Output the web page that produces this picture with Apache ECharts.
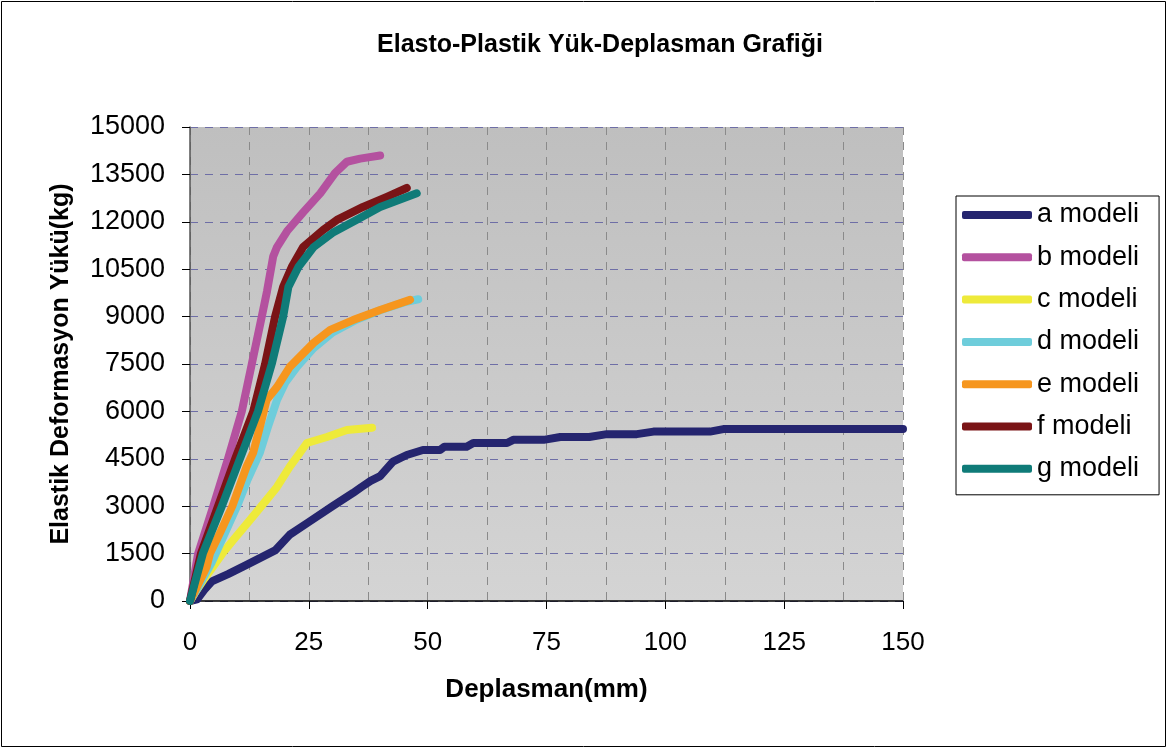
<!DOCTYPE html>
<html>
<head>
<meta charset="utf-8">
<script src="https://cdn.jsdelivr.net/npm/echarts@6/dist/echarts.min.js"></script>
<style>
  html, body { margin: 0; padding: 0; background: #fff; }
  #yuk { width: 1168px; height: 749px; }
</style>
</head>
<body>
<div id="yuk"></div>
<script>
// yük-deplasman eğrileri, [deplasman(mm), yük(kg)]
var modelNames = ['a modeli', 'b modeli', 'c modeli', 'd modeli', 'e modeli', 'f modeli', 'g modeli'];
var modelColors = ['#25256f', '#b4519f', '#eeea3a', '#6ecddb', '#f6961e', '#7a1416', '#0f7b78'];

var aModeli = [[0, 0], [1.5, 50], [3, 350], [4.6, 620], [8, 850], [12, 1150], [17.9, 1600], [21, 2100], [25, 2500],
    [30, 3000], [34.3, 3420], [36, 3600], [38, 3800], [40, 3950], [42.7, 4410], [45.6, 4620], [49, 4780], [52.6, 4780],
    [53.5, 4880], [58.2, 4880], [59.6, 5000], [66.7, 5000], [68, 5100], [74.4, 5100], [77.9, 5190], [84, 5190],
    [87.7, 5280], [94, 5280], [97.5, 5360], [109.4, 5360], [112.2, 5440], [150, 5440]];
var bModeli = [[0, 0], [1.7, 1500], [4.9, 3000], [8, 4500], [10.9, 6000], [13, 7500], [15.1, 9000], [16.2, 9800],
    [17.5, 10900], [18.3, 11200], [20.4, 11700], [23.8, 12300], [27.4, 12900], [30.5, 13540], [33, 13900],
    [35.8, 14000], [40, 14100]];
var cModeli = [[0, 0], [1, 250], [3, 700], [6.8, 1500], [9.1, 1930], [12.6, 2560], [16.1, 3200], [18.3, 3610],
    [19.6, 3920], [21, 4250], [22.5, 4560], [24.6, 5000], [28.8, 5190], [33, 5410], [38.3, 5480]];
var dModeli = [[0, 0], [1.2, 300], [4.5, 1200], [6, 1700], [9.9, 3000], [12, 3800], [14.7, 4700], [16.4, 5510],
    [17.5, 6000], [18.3, 6360], [20, 6900], [22.5, 7410], [26, 8000], [30, 8500], [35, 8900], [40, 9200],
    [45, 9450], [48, 9550]];
var eModeli = [[0, 0], [1, 300], [3.5, 1080], [4.2, 1500], [6.3, 2150], [8.9, 3000], [11.9, 4250], [13.3, 4700],
    [14.7, 5510], [16.1, 6360], [18.3, 6770], [21, 7410], [26, 8170], [29.5, 8580], [34.3, 8890], [40, 9210],
    [46.3, 9530]];
var fModeli = [[0, 0], [2.3, 1500], [5.9, 3000], [9.5, 4500], [13.3, 6000], [15.8, 7500], [17.9, 9000],
    [19.6, 9940], [21.4, 10570], [23.8, 11200], [28, 11740], [30.9, 12060], [36.4, 12470], [41.4, 12790],
    [45.6, 13070]];
var gModeli = [[0, 0], [2.7, 1500], [6.7, 3000], [10.5, 4500], [14.3, 6000], [17.2, 7500], [19.6, 9000],
    [20.7, 9940], [22.8, 10570], [26, 11200], [30, 11650], [35, 12060], [40, 12470], [47.7, 12900]];

var modelData = [aModeli, bModeli, cModeli, dModeli, eModeli, fModeli, gModeli];

var yaziTipi = "'Liberation Sans', Arial, sans-serif";

var chart = echarts.init(document.getElementById('yuk'));

var series = modelNames.map(function (name, i) {
    return {
        name: name,
        type: 'line',
        data: modelData[i],
        showSymbol: false,
        symbol: 'none',
        animation: false,
        lineStyle: {
            color: modelColors[i],
            width: 8,
            cap: 'round',
            join: 'round'
        },
        itemStyle: { color: modelColors[i] }
    };
});

var option = {
    backgroundColor: '#fff',
    color: modelColors,
    textStyle: { fontFamily: yaziTipi },
    title: {
        text: 'Elasto-Plastik Yük-Deplasman Grafiği',
        left: 595,
        top: 28,
        textAlign: 'center',
        textStyle: {
            color: '#000',
            fontSize: 25,
            fontWeight: 'bold',
            fontFamily: yaziTipi
        }
    },
    legend: {
        data: modelNames,
        orient: 'vertical',
        left: 956,
        top: 196,
        padding: [5, 20, 12, 6],
        borderColor: '#000',
        borderWidth: 1,
        icon: 'roundRect',
        itemWidth: 70,
        itemHeight: 8,
        itemGap: 14.3,
        textStyle: {
            color: '#000',
            fontSize: 27,
            lineHeight: 28,
            fontFamily: yaziTipi
        }
    },
    grid: {
        left: 190,
        top: 127,
        width: 713,
        height: 474,
        show: true,
        borderWidth: 0,
        backgroundColor: {
            type: 'linear', x: 0, y: 0, x2: 0, y2: 1,
            colorStops: [
                { offset: 0, color: '#bfbfbf' },
                { offset: 1, color: '#d4d4d4' }
            ]
        }
    },
    xAxis: {
        type: 'value',
        min: 0,
        max: 150,
        interval: 25,
        name: 'Deplasman(mm)',
        nameLocation: 'middle',
        nameGap: 76,
        nameTextStyle: {
            color: '#000',
            fontSize: 26,
            fontWeight: 'bold',
            fontFamily: yaziTipi
        },
        axisLine: { show: true, lineStyle: { color: '#000', width: 1.5 } },
        axisTick: { show: true, length: 8, lineStyle: { color: '#000' } },
        axisLabel: { color: '#000', fontSize: 26, margin: 29, fontFamily: yaziTipi },
        splitLine: { show: true, lineStyle: { color: '#8a8a8a', type: [8, 7], width: 1 } },
        minorTick: { show: false, splitNumber: 2 },
        minorSplitLine: { show: true, lineStyle: { color: '#8a8a8a', type: [8, 7], width: 1 } }
    },
    yAxis: {
        type: 'value',
        min: 0,
        max: 15000,
        interval: 1500,
        name: 'Elastik Deformasyon Yükü(kg)',
        nameLocation: 'middle',
        nameGap: 116,
        nameTextStyle: {
            color: '#000',
            fontSize: 25,
            fontWeight: 'bold',
            fontFamily: yaziTipi
        },
        axisLine: { show: true, lineStyle: { color: '#555', width: 1.5 } },
        axisTick: { show: true, length: 8, lineStyle: { color: '#000' } },
        axisLabel: {
            color: '#000',
            fontSize: 27,
            margin: 25,
            fontFamily: yaziTipi,
            formatter: function (v) { return String(v); }
        },
        splitLine: { show: true, lineStyle: { color: '#6e6ea6', type: [8, 7], width: 1 } }
    },
    graphic: [{
        type: 'rect',
        shape: { x: 1.5, y: 1.5, width: 1164, height: 745 },
        style: { fill: null, stroke: '#000', lineWidth: 1 },
        silent: true
    }],
    series: series
};

chart.setOption(option);
window.addEventListener('resize', function () {
    chart.resize();
});
</script>
</body>
</html>
